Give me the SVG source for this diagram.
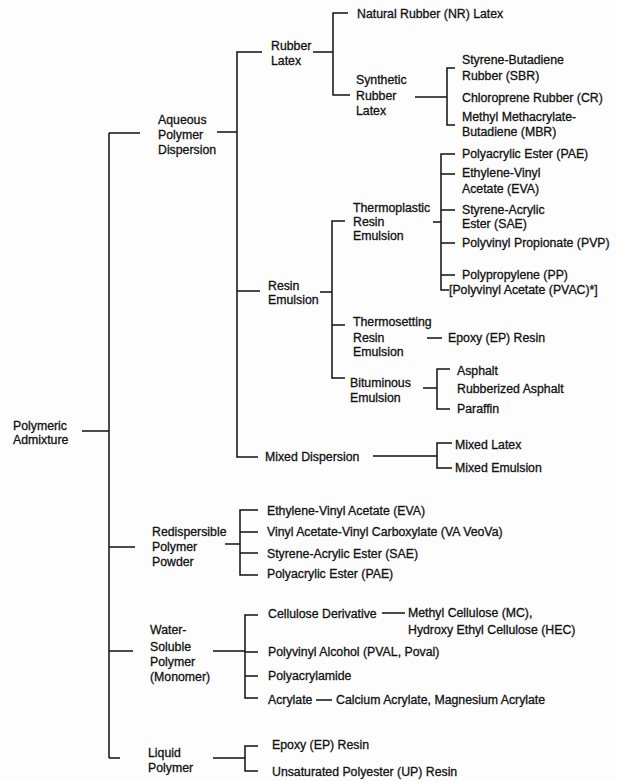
<svg xmlns="http://www.w3.org/2000/svg" width="617" height="781" viewBox="0 0 617 781">
<style>
text{font-family:"Liberation Sans",Arial,sans-serif;font-size:12.3px;fill:#111;stroke:#111;stroke-width:0.3}
.c{fill:none;stroke:#111;stroke-width:1.5}
</style>
<rect width="617" height="781" fill="#fdfdfd"/>
<g id="connectors" class="c">
<path d="M82 431H109M109 133V758"/>
<path d="M140 133H109M109 547H135M109 651H133M109 758H120"/>
<path d="M217 132H237M262 52H237V457H258M237 291H260"/>
<path d="M313 52H333M348 13H333V95H350"/>
<path d="M415 97H447M455 68H447V125H455"/>
<path d="M320 292H332M345 221H332V378H345M332 325H345"/>
<path d="M433 222H441M455 154H441V290H449M441 174H455M441 210H455M441 243H455M441 275H455"/>
<path d="M427 338H442"/>
<path d="M423 388H437M450 369H437V409H450"/>
<path d="M373 456H437M452 443H437V468H452"/>
<path d="M225 544H240M258 510H240V575H258M240 532H258M240 553H258"/>
<path d="M213 651H245M258 615H245V698H258M245 652H258M245 676H258"/>
<path d="M382 613H405M316 700H332"/>
<path d="M213 758H245M258 746H245V771H258"/>
</g>
<g id="root"><text x="13" y="430">Polymeric</text><text x="13" y="444">Admixture</text></g>
<g id="aqueous"><text x="158" y="124">Aqueous</text><text x="158" y="139">Polymer</text><text x="158" y="154">Dispersion</text></g>
<g id="rubber-latex"><text x="271" y="50">Rubber</text><text x="271" y="65">Latex</text></g>
<g id="nr"><text x="357" y="18">Natural Rubber (NR) Latex</text></g>
<g id="synthetic"><text x="356" y="84">Synthetic</text><text x="356" y="100">Rubber</text><text x="356" y="115">Latex</text></g>
<g id="sbr"><text x="462" y="64">Styrene-Butadiene</text><text x="462" y="80">Rubber (SBR)</text></g>
<g id="cr"><text x="462" y="102">Chloroprene Rubber (CR)</text></g>
<g id="mbr"><text x="462" y="121">Methyl Methacrylate-</text><text x="462" y="136">Butadiene (MBR)</text></g>
<g id="resin-emulsion"><text x="268" y="290">Resin</text><text x="268" y="304">Emulsion</text></g>
<g id="thermoplastic"><text x="353" y="212">Thermoplastic</text><text x="353" y="226">Resin</text><text x="353" y="240">Emulsion</text></g>
<g id="pae1"><text x="462" y="158">Polyacrylic Ester (PAE)</text></g>
<g id="eva1"><text x="462" y="177">Ethylene-Vinyl</text><text x="462" y="193">Acetate (EVA)</text></g>
<g id="sae1"><text x="462" y="214">Styrene-Acrylic</text><text x="462" y="228">Ester (SAE)</text></g>
<g id="pvp"><text x="462" y="247">Polyvinyl Propionate (PVP)</text></g>
<g id="pp"><text x="462" y="279">Polypropylene (PP)</text></g>
<g id="pvac"><text x="449" y="294">[Polyvinyl Acetate (PVAC)*]</text></g>
<g id="thermosetting"><text x="353" y="326">Thermosetting</text><text x="353" y="342">Resin</text><text x="353" y="356">Emulsion</text></g>
<g id="ep1"><text x="448" y="342">Epoxy (EP) Resin</text></g>
<g id="bituminous"><text x="350" y="387">Bituminous</text><text x="350" y="402">Emulsion</text></g>
<g id="asphalt"><text x="457" y="375">Asphalt</text></g>
<g id="rubberized"><text x="457" y="393">Rubberized Asphalt</text></g>
<g id="paraffin"><text x="457" y="413">Paraffin</text></g>
<g id="mixed-dispersion"><text x="265" y="461">Mixed Dispersion</text></g>
<g id="mixed-latex"><text x="455" y="449">Mixed Latex</text></g>
<g id="mixed-emulsion"><text x="455" y="472">Mixed Emulsion</text></g>
<g id="redispersible"><text x="152" y="536">Redispersible</text><text x="152" y="551">Polymer</text><text x="152" y="566">Powder</text></g>
<g id="eva2"><text x="267" y="515">Ethylene-Vinyl Acetate (EVA)</text></g>
<g id="veova"><text x="267" y="536">Vinyl Acetate-Vinyl Carboxylate (VA VeoVa)</text></g>
<g id="sae2"><text x="267" y="558">Styrene-Acrylic Ester (SAE)</text></g>
<g id="pae2"><text x="267" y="578">Polyacrylic Ester (PAE)</text></g>
<g id="water-soluble"><text x="150" y="634">Water-</text><text x="150" y="651">Soluble</text><text x="150" y="666">Polymer</text><text x="150" y="681">(Monomer)</text></g>
<g id="cellulose"><text x="268" y="618">Cellulose Derivative</text></g>
<g id="mc-hec"><text x="408" y="617">Methyl Cellulose (MC),</text><text x="408" y="634">Hydroxy Ethyl Cellulose (HEC)</text></g>
<g id="pval"><text x="268" y="656">Polyvinyl Alcohol (PVAL, Poval)</text></g>
<g id="polyacrylamide"><text x="268" y="680">Polyacrylamide</text></g>
<g id="acrylate"><text x="268" y="704">Acrylate</text></g>
<g id="ca-mg"><text x="336" y="704">Calcium Acrylate, Magnesium Acrylate</text></g>
<g id="liquid"><text x="148" y="757">Liquid</text><text x="148" y="772">Polymer</text></g>
<g id="ep2"><text x="272" y="749">Epoxy (EP) Resin</text></g>
<g id="up"><text x="272" y="776">Unsaturated Polyester (UP) Resin</text></g>
</svg>
